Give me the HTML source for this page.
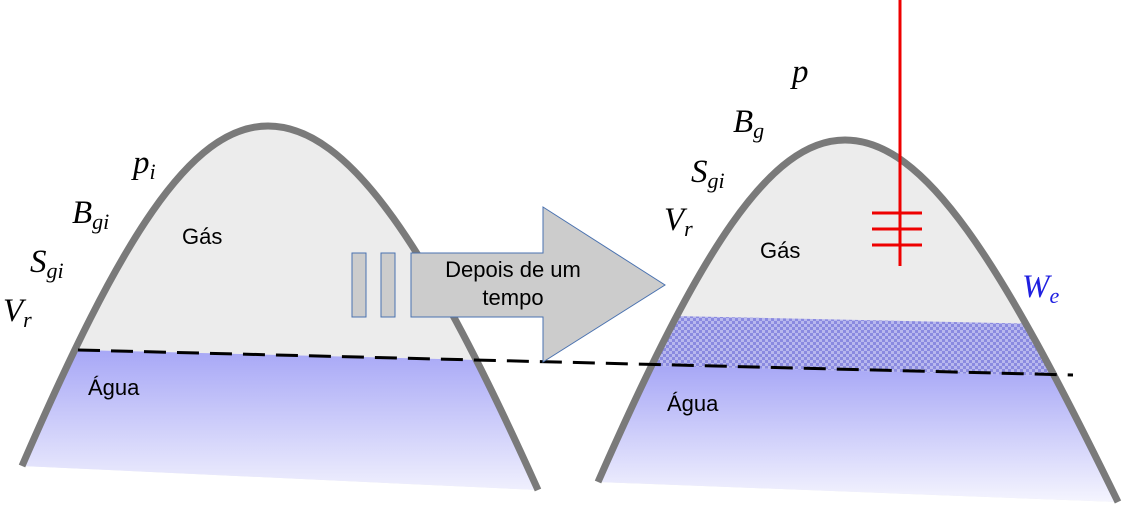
<!DOCTYPE html>
<html><head><meta charset="utf-8"><style>
html,body{margin:0;padding:0;background:#fff;}
svg{display:block;}
.m{font-family:"Liberation Serif",serif;font-style:italic;font-size:33px;fill:#000;}
.s{font-size:22px;}
.t{font-family:"Liberation Sans",sans-serif;font-size:22px;fill:#000;}
</style></head><body>
<svg width="1123" height="529" viewBox="0 0 1123 529">
<defs>
<linearGradient id="wg" x1="0" y1="0" x2="0" y2="1">
<stop offset="0" stop-color="#a6a6f6"/><stop offset="1" stop-color="#ffffff"/>
</linearGradient>
<pattern id="hatch" width="6" height="6" patternUnits="userSpaceOnUse">
<rect width="6" height="6" fill="#8a8ae0"/>
<rect width="3" height="3" fill="#b8b8ee"/><rect x="3" y="3" width="3" height="3" fill="#b8b8ee"/>
</pattern>
<clipPath id="cl"><path d="M22,466 C120,240 190,126 268,126 C350,126 430,250 538,490 Z"/></clipPath>
<clipPath id="cr"><path d="M598,482 C700,250 770,140 845,140 C925,140 1000,260 1118,502 Z"/></clipPath>
</defs>
<g clip-path="url(#cl)">
<rect x="0" y="100" width="560" height="420" fill="#ececec"/>
<polygon points="0,348 560,362 560,520 0,520" fill="url(#wg)"/>
</g>
<g clip-path="url(#cr)">
<rect x="580" y="120" width="560" height="400" fill="#ececec"/>
<polygon points="580,314 1140,326 1140,378 580,364" fill="url(#hatch)"/>
<polygon points="580,364 1140,378 1140,520 580,520" fill="url(#wg)"/>
</g>
<path d="M22,466 C120,240 190,126 268,126 C350,126 430,250 538,490" fill="none" stroke="#7a7a7a" stroke-width="7"/>
<path d="M598,482 C700,250 770,140 845,140 C925,140 1000,260 1118,502" fill="none" stroke="#7a7a7a" stroke-width="7"/>
<line x1="78" y1="350" x2="1073" y2="375" stroke="#000" stroke-width="3" stroke-dasharray="22,11"/>
<g>
<rect x="352" y="253" width="14" height="64" fill="#cccccc" stroke="#4a72b0" stroke-width="1"/>
<rect x="381" y="253" width="14" height="64" fill="#cccccc" stroke="#4a72b0" stroke-width="1"/>
<polygon points="411,253 543,253 543,207 665,285 543,362 543,317 411,317" fill="#cccccc" stroke="#4a72b0" stroke-width="1"/>
<text class="t" x="513" y="277" text-anchor="middle">Depois de um</text>
<text class="t" x="513" y="305" text-anchor="middle">tempo</text>
</g>
<g stroke="#e00" stroke-width="3">
<line x1="900" y1="0" x2="900" y2="266"/>
<line x1="872" y1="213" x2="922" y2="213"/>
<line x1="872" y1="229" x2="922" y2="229"/>
<line x1="872" y1="245" x2="922" y2="245"/>
</g>
<text class="t" x="182" y="244">Gás</text>
<text class="t" x="88" y="395">Água</text>
<text class="t" x="760" y="258">Gás</text>
<text class="t" x="667" y="411">Água</text>
<text class="m" x="133" y="173">p<tspan class="s" dy="6">i</tspan></text>
<text class="m" x="72" y="223">B<tspan class="s" dy="6">gi</tspan></text>
<text class="m" x="30" y="272">S<tspan class="s" dy="6">gi</tspan></text>
<text class="m" x="3" y="321">V<tspan class="s" dy="6">r</tspan></text>
<text class="m" x="792" y="82">p</text>
<text class="m" x="733" y="132">B<tspan class="s" dy="6">g</tspan></text>
<text class="m" x="691" y="182">S<tspan class="s" dy="6">gi</tspan></text>
<text class="m" x="664" y="230">V<tspan class="s" dy="6">r</tspan></text>
<text class="m" x="1022" y="297" style="fill:#2020e0">W<tspan class="s" dy="6" style="fill:#2020e0">e</tspan></text>
</svg>
</body></html>
